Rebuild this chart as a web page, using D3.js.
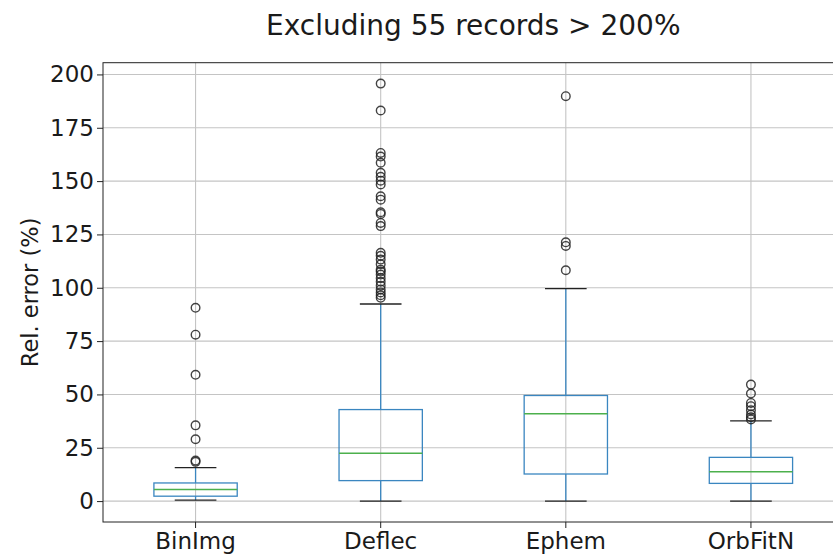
<!DOCTYPE html>
<html>
<head>
<meta charset="utf-8">
<script src="https://cdn.jsdelivr.net/npm/d3@7"></script>
<style>
  html, body { margin: 0; padding: 0; background: #fff; }
  svg { display: block; font-family: "DejaVu Sans", sans-serif; }
</style>
</head>
<body>
<svg id="chart" width="833" height="554"></svg>
<script>
// Relative error distribution per method (values in %)
const categories = ["BinImg", "Deflec", "Ephem", "OrbFitN"];
const whiskerLow = [0.5, 0, 0, 0];
const q1 = [2.3, 9.6, 12.7, 8.3];
const median = [5.4, 22.4, 41.0, 13.8];
const q3 = [8.5, 42.9, 49.5, 20.5];
const whiskerHigh = [15.7, 92.4, 99.6, 37.6];
const outliers = [
  [18.4, 19.0, 29.0, 35.5, 59.2, 78.0, 90.6],
  [95.3, 96.5, 97.8, 99.2, 101.0, 102.8, 104.5, 106.2, 107.6, 108.5, 111.0, 113.2, 115.0, 116.4,
   128.9, 130.4, 134.6, 135.4, 141.3, 142.9, 148.4, 150.2, 152.0, 153.9, 158.6, 161.5, 163.2,
   183.1, 195.7],
  [108.2, 119.6, 121.3, 189.8],
  [38.3, 39.3, 40.6, 42.6, 44.5, 46.0, 50.4, 54.6]
];
const yTicks = [0, 25, 50, 75, 100, 125, 150, 175, 200];
const titleText = "Excluding 55 records > 200%";
const yLabel = "Rel. error (%)";

const svg = d3.select("#chart");
const plot = { left: 103, right: 843.5, top: 62.7, bottom: 522 };

const x = d3.scaleBand().domain(categories).range([plot.left, plot.right]).paddingInner(0).paddingOuter(0);
const y = d3.scaleLinear().domain([-9.8, 205.5]).range([plot.bottom, plot.top]);

const cx = c => x(c) + x.bandwidth() / 2;
const boxW = x.bandwidth() * 0.45;
const capW = boxW / 2;
const blue = "#3a86c0";

// grid lines
const grid = svg.append("g");
grid.selectAll("line.h").data(yTicks).join("line")
  .attr("x1", plot.left).attr("x2", plot.right)
  .attr("y1", d => y(d)).attr("y2", d => y(d))
  .attr("stroke", "#c4c4c4").attr("stroke-width", 1.1);
grid.selectAll("line.v").data(categories).join("line")
  .attr("x1", d => cx(d)).attr("x2", d => cx(d))
  .attr("y1", plot.top).attr("y2", plot.bottom)
  .attr("stroke", "#c4c4c4").attr("stroke-width", 1.1);

// boxes
const boxes = svg.append("g").selectAll("g").data(categories).join("g");
boxes.append("line") // lower whisker
  .attr("x1", d => cx(d)).attr("x2", d => cx(d))
  .attr("y1", (d, i) => y(q1[i])).attr("y2", (d, i) => y(whiskerLow[i]))
  .attr("stroke", blue).attr("stroke-width", 1.3);
boxes.append("line") // upper whisker
  .attr("x1", d => cx(d)).attr("x2", d => cx(d))
  .attr("y1", (d, i) => y(q3[i])).attr("y2", (d, i) => y(whiskerHigh[i]))
  .attr("stroke", blue).attr("stroke-width", 1.3);
boxes.append("rect")
  .attr("x", d => cx(d) - boxW / 2).attr("width", boxW)
  .attr("y", (d, i) => y(q3[i])).attr("height", (d, i) => y(q1[i]) - y(q3[i]))
  .attr("fill", "none").attr("stroke", blue).attr("stroke-width", 1.3);
boxes.append("line") // median
  .attr("x1", d => cx(d) - boxW / 2).attr("x2", d => cx(d) + boxW / 2)
  .attr("y1", (d, i) => y(median[i])).attr("y2", (d, i) => y(median[i]))
  .attr("stroke", "#4cb04c").attr("stroke-width", 1.5);
boxes.append("line") // lower cap
  .attr("x1", d => cx(d) - capW / 2).attr("x2", d => cx(d) + capW / 2)
  .attr("y1", (d, i) => y(whiskerLow[i])).attr("y2", (d, i) => y(whiskerLow[i]))
  .attr("stroke", "#222").attr("stroke-width", 1.3);
boxes.append("line") // upper cap
  .attr("x1", d => cx(d) - capW / 2).attr("x2", d => cx(d) + capW / 2)
  .attr("y1", (d, i) => y(whiskerHigh[i])).attr("y2", (d, i) => y(whiskerHigh[i]))
  .attr("stroke", "#222").attr("stroke-width", 1.3);
boxes.each(function (d, i) {
  d3.select(this).selectAll("circle").data(outliers[i]).join("circle")
    .attr("cx", cx(d)).attr("cy", v => y(v)).attr("r", 4.3)
    .attr("fill", "none").attr("stroke", "#222").attr("stroke-opacity", 0.85).attr("stroke-width", 1.4);
});

// axes
const yAxis = svg.append("g").attr("transform", `translate(${plot.left},0)`)
  .call(d3.axisLeft(y).tickValues(yTicks).tickSize(6).tickPadding(3));
const xAxis = svg.append("g").attr("transform", `translate(0,${plot.bottom})`)
  .call(d3.axisBottom(x).tickSize(6).tickPadding(3));
[yAxis, xAxis].forEach(a => {
  a.select(".domain").remove();
  a.selectAll(".tick line").attr("stroke", "#222").attr("stroke-width", 1);
  a.selectAll(".tick text").attr("font-size", 23).attr("fill", "#1a1a1a")
    .attr("font-family", "DejaVu Sans, sans-serif");
});
xAxis.selectAll(".tick text").attr("dy", "0.78em");

// spines
svg.append("rect")
  .attr("x", plot.left).attr("y", plot.top)
  .attr("width", plot.right - plot.left).attr("height", plot.bottom - plot.top)
  .attr("fill", "none").attr("stroke", "#222").attr("stroke-width", 1);

// title and axis label
svg.append("text")
  .attr("x", (plot.left + plot.right) / 2).attr("y", 35)
  .attr("text-anchor", "middle").attr("font-size", 28).attr("fill", "#1a1a1a")
  .text(titleText);
svg.append("text")
  .attr("transform", `translate(38,${(plot.top + plot.bottom) / 2}) rotate(-90)`)
  .attr("text-anchor", "middle").attr("font-size", 22.5).attr("fill", "#1a1a1a")
  .text(yLabel);
</script>
</body>
</html>
